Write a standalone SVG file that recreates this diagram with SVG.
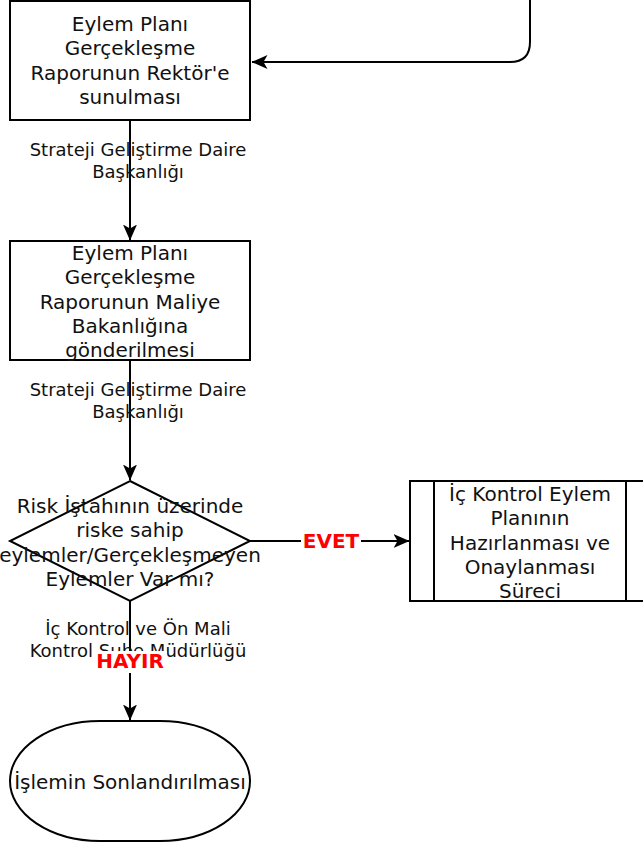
<svg xmlns="http://www.w3.org/2000/svg" width="643" height="845" viewBox="0 0 643 845">
<defs>
<marker id="arr" viewBox="0 0 16 14" refX="15.5" refY="7" markerWidth="16" markerHeight="14" markerUnits="userSpaceOnUse" orient="auto">
<path d="M0,0 L16,7 L0,14 L4,7 Z" fill="#000"/>
</marker>
<style>
.n{fill:#fff;stroke:#000;stroke-width:2}
.t{font-family:"DejaVu Sans",Verdana,sans-serif;font-size:20px;fill:#111;text-anchor:middle}
.l{font-family:"DejaVu Sans",Verdana,sans-serif;font-size:18px;fill:#111;text-anchor:middle}
.e{stroke:#000;stroke-width:2;fill:none}
.r{font-family:"DejaVu Sans",Verdana,sans-serif;font-size:20px;font-weight:bold;fill:#ff0000;text-anchor:middle}
</style>
</defs>
<rect width="643" height="845" fill="#fff"/>
<g id="connectors">
<path class="e" d="M130,0 V1"/>
<path class="e" d="M530,0 V42 Q530,62 510,62 H252" marker-end="url(#arr)"/>
<path class="e" d="M130,120 V240" marker-end="url(#arr)"/>
<path class="e" d="M130,360 V480" marker-end="url(#arr)"/>
<path class="e" d="M250,541 H409" marker-end="url(#arr)"/>
<path class="e" d="M130,601 V720" marker-end="url(#arr)"/>
<text class="l" x="138" y="156">Strateji Geliştirme Daire</text>
<text class="l" x="138" y="178">Başkanlığı</text>
<text class="l" x="138" y="396">Strateji Geliştirme Daire</text>
<text class="l" x="138" y="418">Başkanlığı</text>
<text class="l" x="138" y="635">İç Kontrol ve Ön Mali</text>
<text class="l" x="138" y="657">Kontrol Şube Müdürlüğü</text>
<rect x="301" y="531" width="60" height="21" fill="#fff"/>
<text class="r" x="331" y="548">EVET</text>
<rect x="93" y="651" width="74" height="22" fill="#fff"/>
<text class="r" x="130" y="668">HAYIR</text>
</g>
<g id="n1">
<rect class="n" x="10" y="1" width="240" height="119"/>
<text class="t" x="130" y="31">Eylem Planı</text>
<text class="t" x="130" y="55">Gerçekleşme</text>
<text class="t" x="130" y="80">Raporunun Rektör'e</text>
<text class="t" x="130" y="104">sunulması</text>
</g>
<g id="n2">
<rect class="n" x="10" y="241" width="240" height="119"/>
<text class="t" x="130" y="260">Eylem Planı</text>
<text class="t" x="130" y="284">Gerçekleşme</text>
<text class="t" x="130" y="309">Raporunun Maliye</text>
<text class="t" x="130" y="333">Bakanlığına</text>
<text class="t" x="130" y="357">gönderilmesi</text>
</g>
<g id="n3">
<path class="n" d="M130,481 L250,541 L130,601 L10,541 Z"/>
<text class="t" x="130" y="513">Risk İştahının üzerinde</text>
<text class="t" x="130" y="537">riske sahip</text>
<text class="t" x="130" y="562">eylemler/Gerçekleşmeyen</text>
<text class="t" x="130" y="586">Eylemler Var mı?</text>
</g>
<g id="n4">
<rect class="n" x="410" y="481" width="240" height="120"/>
<path class="e" d="M434,481 V601 M626,481 V601"/>
<text class="t" x="530" y="501">İç Kontrol Eylem</text>
<text class="t" x="530" y="525">Planının</text>
<text class="t" x="530" y="550">Hazırlanması ve</text>
<text class="t" x="530" y="574">Onaylanması</text>
<text class="t" x="530" y="598">Süreci</text>
</g>
<g id="n5">
<rect class="n" x="10" y="721" width="240" height="120" rx="90" ry="60"/>
<text class="t" x="130" y="789">İşlemin Sonlandırılması</text>
</g>
</svg>
